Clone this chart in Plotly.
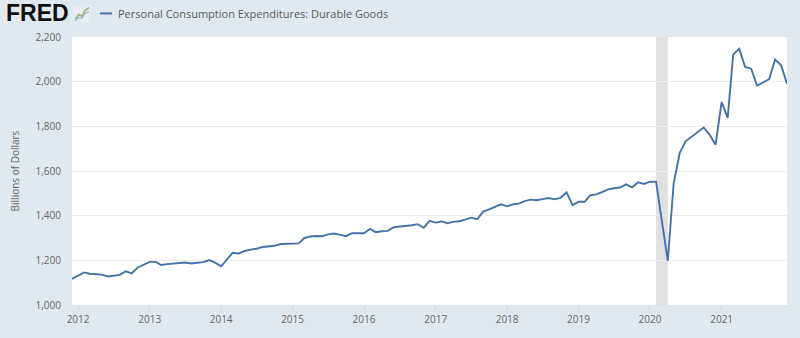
import pandas as pd
import plotly.graph_objects as go

start_month = "2011-12-01"
values = [
    1117, 1132, 1146, 1140, 1137, 1136, 1128, 1131, 1135, 1151, 1142, 1168,
    1180, 1193, 1193, 1179, 1183, 1186, 1186, 1190, 1186, 1188, 1192, 1201,
    1190, 1173, 1205, 1234, 1231, 1242, 1248, 1252, 1260, 1262, 1265, 1273,
    1274, 1274, 1276, 1299, 1307, 1309, 1308, 1316, 1320, 1314, 1308, 1322,
    1323, 1321, 1341, 1326, 1330, 1332, 1348, 1351, 1352, 1357, 1362, 1346,
    1377, 1369, 1374, 1366, 1372, 1375, 1382, 1391, 1384, 1418, 1428, 1440,
    1451, 1442, 1451, 1454, 1465, 1472, 1469, 1474, 1479, 1473, 1480, 1505,
    1447, 1462, 1462, 1491, 1495, 1505, 1518, 1523, 1526, 1540, 1527, 1549,
    1542, 1552, 1552, 1380, 1198, 1545, 1681, 1733, 1755, 1775, 1795, 1762,
    1718, 1908, 1838, 2121, 2147, 2066, 2058, 1982, 1996, 2011, 2099, 2073,
    1991,
]
dates = pd.date_range(start_month, periods=len(values), freq="MS")

recession_start = "2020-02-01"
recession_end = "2020-04-01"
series_name = "Personal Consumption Expenditures: Durable Goods"
y_title = "Billions of Dollars"
y_ticks = [1000, 1200, 1400, 1600, 1800, 2000, 2200]

BG = "#e1e9f0"
LINE = "#4572a7"

# plot-area geometry (pixels) used to place header decorations in paper coords
L, R, T, B = 72, 787, 37, 310
W, H = R - L, B - T


def px(xp):
    return (xp - L) / W


def py(yp):
    return (B - yp) / H


fig = go.Figure()
fig.add_trace(go.Scatter(
    x=dates, y=values, mode="lines",
    line=dict(color=LINE, width=1.9),
    name=series_name, showlegend=False,
))

fig.add_vrect(x0=recession_start, x1=recession_end,
              fillcolor="#e1e1e1", opacity=1, line_width=0, layer="below")

fig.update_layout(
    width=800, height=338,
    margin=dict(l=L, r=800 - R, t=T, b=338 - B),
    paper_bgcolor=BG, plot_bgcolor="white",
    font=dict(family="Open Sans", color="#666666", size=10),
    xaxis=dict(
        range=[dates[0], dates[-1]],
        tick0="2012-01-01", dtick="M12", tickformat="%Y",
        showgrid=False, zeroline=False, showline=False,
        ticks="outside", ticklen=5, tickcolor="#ccd6eb",
        tickfont=dict(size=10, color="#666666"),
    ),
    yaxis=dict(
        range=[1000, 2200], tickvals=y_ticks, tickformat=",",
        showgrid=True, gridcolor="#ececec", gridwidth=1,
        zeroline=False, showline=False, ticks="",
        ticklabelstandoff=10,
        tickfont=dict(size=10, color="#666666"),
        title=dict(text=y_title, font=dict(size=10, color="#666666"), standoff=14),
    ),
)

# FRED logo text
fig.add_annotation(xref="paper", yref="paper", x=px(4), y=py(13),
                   xanchor="left", yanchor="middle", showarrow=False,
                   text="<b>FRED</b>",
                   font=dict(family="Liberation Sans", size=23, color="#111111"))
# small logo icon
fig.add_shape(type="rect", xref="paper", yref="paper",
              x0=px(73), x1=px(91), y0=py(22), y1=py(5),
              line_width=0, fillcolor="#eaeef2")
icon_x = [75, 79, 82, 85, 89]
icon_y = [19, 14, 16, 10, 7]
fig.add_shape(type="path", xref="paper", yref="paper",
              path="M " + " L ".join(f"{px(a)},{py(b)}" for a, b in zip(icon_x, icon_y)),
              line=dict(color="#8fb573", width=1.5))
icon_y2 = [21, 17, 18, 13, 11]
fig.add_shape(type="path", xref="paper", yref="paper",
              path="M " + " L ".join(f"{px(a)},{py(b)}" for a, b in zip(icon_x, icon_y2)),
              line=dict(color="#9fb6cf", width=1.2))

# legend line + text
fig.add_shape(type="line", xref="paper", yref="paper",
              x0=px(100), x1=px(112), y0=py(13), y1=py(13),
              line=dict(color=LINE, width=2))
fig.add_annotation(xref="paper", yref="paper", x=px(116), y=py(13),
                   xanchor="left", yanchor="middle", showarrow=False,
                   text=series_name,
                   font=dict(family="Open Sans", size=11, color="#595959"))

fig.write_html("out.html")
